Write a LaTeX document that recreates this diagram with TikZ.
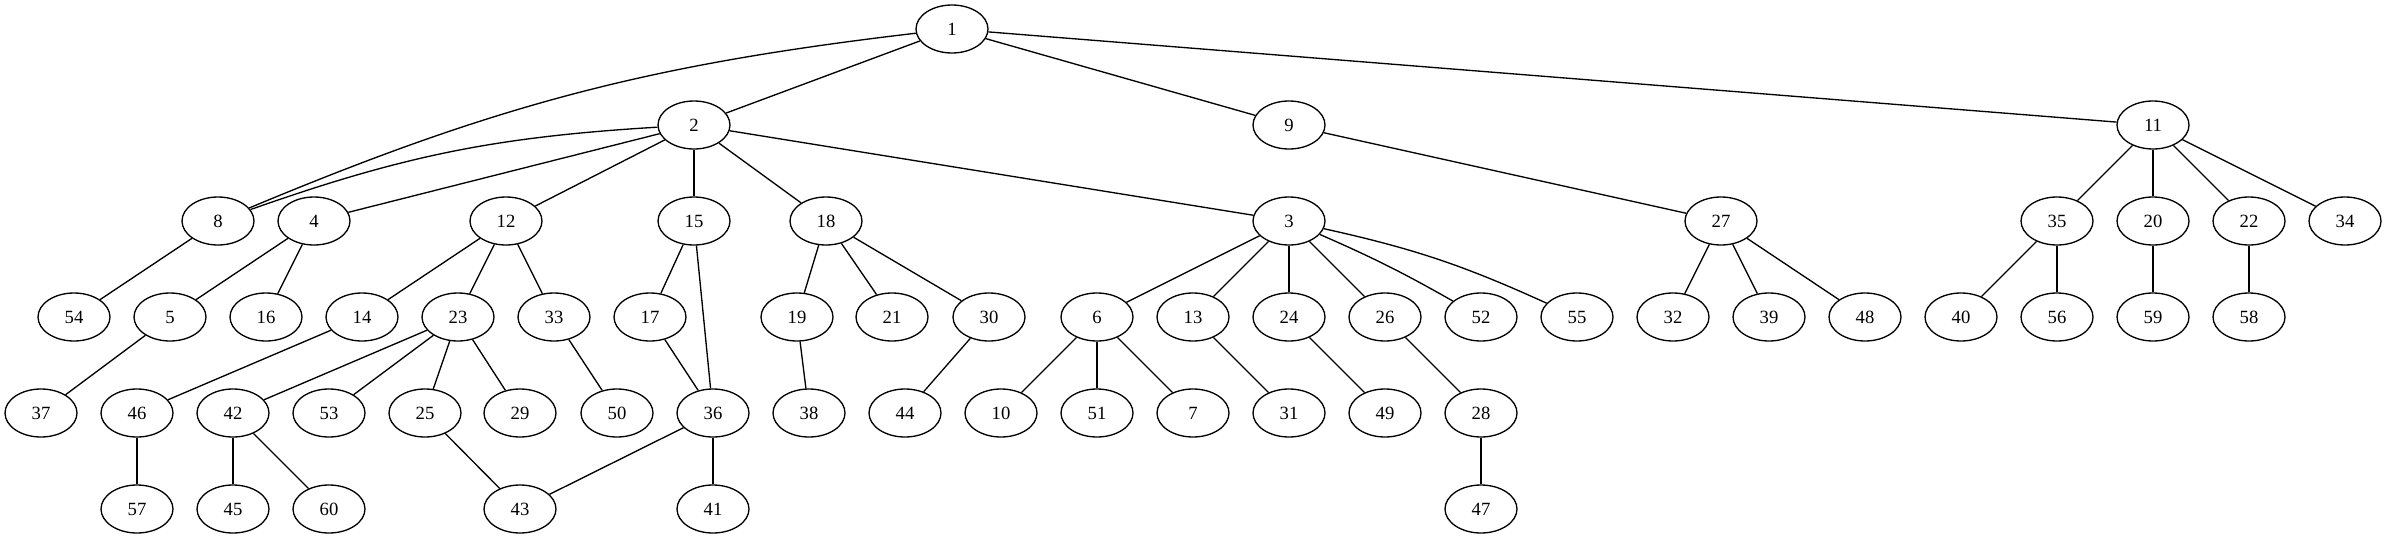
\documentclass[tikz,border=0pt]{standalone}
\usepackage{fontspec}
\setmainfont{Liberation Serif}
\usetikzlibrary{shapes.geometric}
\begin{document}
\begin{tikzpicture}[x=0.75pt,y=-0.75pt,
  vnode/.style={ellipse,draw,line width=1pt,minimum width=54pt,minimum height=36pt,inner sep=0pt,font=\fontsize{14pt}{16pt}\selectfont},
  edge/.style={line width=1pt}]
\useasboundingbox (0,0) rectangle (2387,539);
% row 0
\node[vnode] (n1) at (952,29) {1};
% row 1
\node[vnode] (n2) at (694,125) {2};
\node[vnode] (n9) at (1289,125) {9};
\node[vnode] (n11) at (2153,125) {11};
% row 2
\node[vnode] (n8) at (218,221) {8};
\node[vnode] (n4) at (314,221) {4};
\node[vnode] (n12) at (506,221) {12};
\node[vnode] (n15) at (694,221) {15};
\node[vnode] (n18) at (826,221) {18};
\node[vnode] (n3) at (1289,221) {3};
\node[vnode] (n27) at (1721,221) {27};
\node[vnode] (n35) at (2057,221) {35};
\node[vnode] (n20) at (2153,221) {20};
\node[vnode] (n22) at (2249,221) {22};
\node[vnode] (n34) at (2345,221) {34};
% row 3
\node[vnode] (n54) at (74,317) {54};
\node[vnode] (n5) at (170,317) {5};
\node[vnode] (n16) at (266,317) {16};
\node[vnode] (n14) at (362,317) {14};
\node[vnode] (n23) at (458,317) {23};
\node[vnode] (n33) at (554,317) {33};
\node[vnode] (n17) at (650,317) {17};
\node[vnode] (n19) at (797,317) {19};
\node[vnode] (n21) at (892,317) {21};
\node[vnode] (n30) at (989,317) {30};
\node[vnode] (n6) at (1097,317) {6};
\node[vnode] (n13) at (1193,317) {13};
\node[vnode] (n24) at (1289,317) {24};
\node[vnode] (n26) at (1385,317) {26};
\node[vnode] (n52) at (1481,317) {52};
\node[vnode] (n55) at (1577,317) {55};
\node[vnode] (n32) at (1673,317) {32};
\node[vnode] (n39) at (1769,317) {39};
\node[vnode] (n48) at (1865,317) {48};
\node[vnode] (n40) at (1961,317) {40};
\node[vnode] (n56) at (2057,317) {56};
\node[vnode] (n59) at (2153,317) {59};
\node[vnode] (n58) at (2249,317) {58};
% row 4
\node[vnode] (n37) at (41,413) {37};
\node[vnode] (n46) at (137,413) {46};
\node[vnode] (n42) at (233,413) {42};
\node[vnode] (n53) at (329,413) {53};
\node[vnode] (n25) at (425,413) {25};
\node[vnode] (n29) at (520,413) {29};
\node[vnode] (n50) at (617,413) {50};
\node[vnode] (n36) at (713,413) {36};
\node[vnode] (n38) at (809,413) {38};
\node[vnode] (n44) at (905,413) {44};
\node[vnode] (n10) at (1001,413) {10};
\node[vnode] (n51) at (1097,413) {51};
\node[vnode] (n7) at (1193,413) {7};
\node[vnode] (n31) at (1289,413) {31};
\node[vnode] (n49) at (1385,413) {49};
\node[vnode] (n28) at (1481,413) {28};
% row 5
\node[vnode] (n57) at (137,509) {57};
\node[vnode] (n45) at (233,509) {45};
\node[vnode] (n60) at (329,509) {60};
\node[vnode] (n43) at (520,509) {43};
\node[vnode] (n41) at (713,509) {41};
\node[vnode] (n47) at (1481,509) {47};
% edges
\draw[edge] (n1) -- (n2);
\draw[edge] (n1) to[bend right=8] (n8);
\draw[edge] (n1) -- (n9);
\draw[edge] (n1) -- (n11);
\draw[edge] (n2) to[bend right=8] (n8);
\draw[edge] (n2) -- (n4);
\draw[edge] (n2) -- (n12);
\draw[edge] (n2) -- (n15);
\draw[edge] (n2) -- (n18);
\draw[edge] (n2) -- (n3);
\draw[edge] (n9) -- (n27);
\draw[edge] (n11) -- (n35);
\draw[edge] (n11) -- (n20);
\draw[edge] (n11) -- (n22);
\draw[edge] (n11) -- (n34);
\draw[edge] (n8) -- (n54);
\draw[edge] (n4) -- (n5);
\draw[edge] (n4) -- (n16);
\draw[edge] (n12) -- (n14);
\draw[edge] (n12) -- (n23);
\draw[edge] (n12) -- (n33);
\draw[edge] (n15) -- (n17);
\draw[edge] (n15) -- (n36);
\draw[edge] (n18) -- (n19);
\draw[edge] (n18) -- (n21);
\draw[edge] (n18) -- (n30);
\draw[edge] (n3) -- (n6);
\draw[edge] (n3) -- (n13);
\draw[edge] (n3) -- (n24);
\draw[edge] (n3) -- (n26);
\draw[edge] (n3) to[bend left=3] (n52);
\draw[edge] (n3) to[bend left=6] (n55);
\draw[edge] (n27) -- (n32);
\draw[edge] (n27) -- (n39);
\draw[edge] (n27) -- (n48);
\draw[edge] (n35) -- (n40);
\draw[edge] (n35) -- (n56);
\draw[edge] (n20) -- (n59);
\draw[edge] (n22) -- (n58);
\draw[edge] (n5) -- (n37);
\draw[edge] (n14) -- (n46);
\draw[edge] (n23) -- (n42);
\draw[edge] (n23) -- (n53);
\draw[edge] (n23) -- (n25);
\draw[edge] (n23) -- (n29);
\draw[edge] (n33) -- (n50);
\draw[edge] (n17) -- (n36);
\draw[edge] (n19) -- (n38);
\draw[edge] (n30) -- (n44);
\draw[edge] (n6) -- (n10);
\draw[edge] (n6) -- (n51);
\draw[edge] (n6) -- (n7);
\draw[edge] (n13) -- (n31);
\draw[edge] (n24) -- (n49);
\draw[edge] (n26) -- (n28);
\draw[edge] (n46) -- (n57);
\draw[edge] (n42) -- (n45);
\draw[edge] (n42) -- (n60);
\draw[edge] (n25) -- (n43);
\draw[edge] (n36) -- (n43);
\draw[edge] (n36) -- (n41);
\draw[edge] (n28) -- (n47);
\end{tikzpicture}
\end{document}
